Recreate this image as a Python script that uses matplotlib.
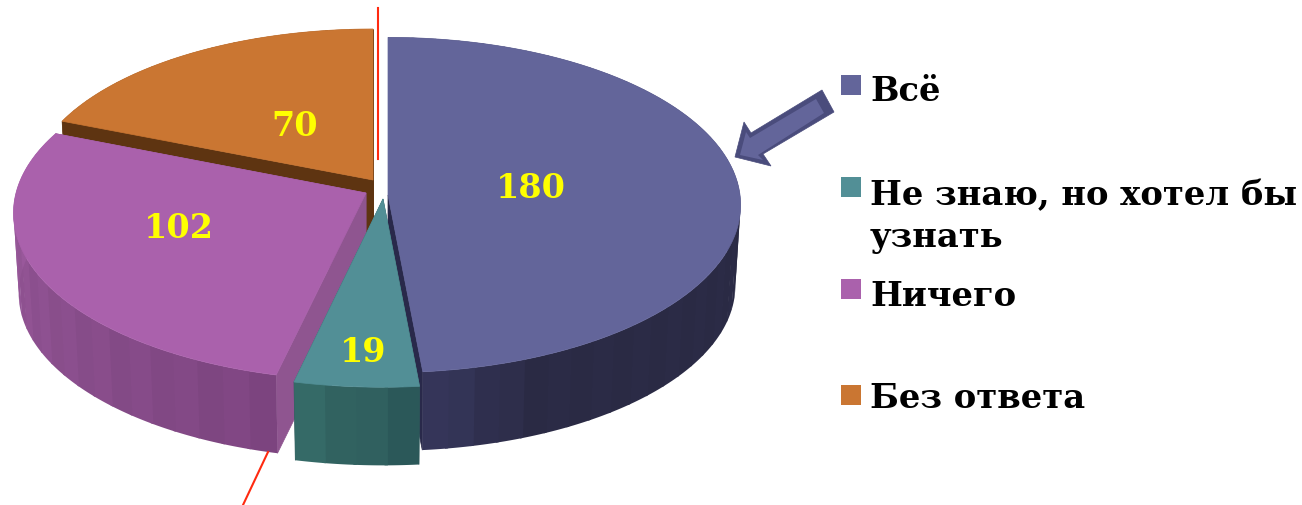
import matplotlib
matplotlib.use('Agg')
import matplotlib.pyplot as plt
from matplotlib.colors import to_rgb
from matplotlib.patches import Polygon, Rectangle
import numpy as np

categories = ['Всё', 'Не знаю, но хотел бы\nузнать', 'Ничего', 'Без ответа']
values = [180, 19, 102, 70]

top_colors = ['#63659a', '#528f96', '#aa61ac', '#ca7632']
inner_colors = ['#29294a', '#2f5a5c', '#8f5590', '#5e3411']
wall_start = ['#2a2a44', '#2a5557', '#7b447e', '#5e3411']
wall_end = ['#36375c', '#356a66', '#9a5a9c', '#5e3411']

# each slice is pulled out on its own, pixels of the picture
apex_x = [388, 383, 366, 373]
apex_y = [195, 199, 193, 180]
rad_x = [352, 370, 350, 343]
rad_y = [167, 177, 165, 160]
persp = [0.0595, 0.0595, 0.12, 0.0595]
label_x = [531, 363, 179, 295]
label_y = [188, 352, 229, 126]
legend_y = [85, 187, 289, 395]
text_y = [101, 205, 306, 408]

bottom_scale = 0.985
bottom_drop = 81


def rim(i, t, bottom=False):
    u = np.sin(t)
    v = np.cos(t)
    w = 1 + persp[i] * v
    s = bottom_scale if bottom else 1
    d = bottom_drop if bottom else 0
    return np.column_stack([apex_x[i] + s * rad_x[i] * u / w,
                            apex_y[i] + d - s * rad_y[i] * v / w])


def mix(c1, c2, f):
    a = np.array(to_rgb(c1))
    b = np.array(to_rgb(c2))
    return tuple(a + (b - a) * f)


def draw_slice(ax, i, t0, t1):
    # inner cut walls
    apex = np.array([[apex_x[i], apex_y[i]]])
    apex_low = np.array([[apex_x[i], apex_y[i] + bottom_drop]])
    for t in [t0, t1]:
        a = rim(i, np.array([t]))
        b = rim(i, np.array([t]), bottom=True)
        pts = np.vstack([apex, a, b, apex_low])
        ax.add_patch(Polygon(pts, closed=True, fc=inner_colors[i], ec=inner_colors[i], lw=0.5))

    # outer wall in bands, each one runs a little under the next
    n = max(4, int(np.degrees(t1 - t0) / 4))
    edges = np.linspace(t0, t1, n + 1)
    for k in range(n):
        stop = edges[k + 1] if k == n - 1 else edges[k + 1] + np.radians(0.5)
        tt = np.linspace(edges[k], stop, 8)
        pts = np.vstack([rim(i, tt), rim(i, tt[::-1], bottom=True)])
        f = (k + 0.5) / n
        if i == 0:
            f = max(0, (f - 0.9) / 0.1)
        c = mix(wall_start[i], wall_end[i], f)
        if k % 2 and i != 3:
            c = tuple(min(1, x * 1.03) for x in c)
        ax.add_patch(Polygon(pts, closed=True, fc=c, ec='none', lw=0))

    # top face
    tt = np.linspace(t0, t1, 200)
    pts = np.vstack([apex, rim(i, tt)])
    ax.add_patch(Polygon(pts, closed=True, fc=top_colors[i], ec=top_colors[i], lw=0.5))


fig = plt.figure(figsize=(13.02, 5.05), dpi=100)
ax = fig.add_axes([0, 0, 1, 1])
ax.set_xlim(0, 1302)
ax.set_ylim(505, 0)
ax.axis('off')

ends = np.cumsum(values) / np.sum(values) * 2 * np.pi
starts = np.concatenate([[0], ends[:-1]])

for i in [3, 2, 0, 1]:
    draw_slice(ax, i, starts[i], ends[i])

# red guide lines
ax.plot([378, 378], [8, 159], color='#ff2a10', lw=1.5, zorder=1)
ax.plot([268, 243], [452, 505], color='#ff2a10', lw=1.5, zorder=1)

for i in range(4):
    ax.text(label_x[i], label_y[i], str(values[i]), color='#ffff00', fontsize=24,
            family='DejaVu Serif', fontweight='bold', ha='center', va='center')

# legend
for i in range(4):
    ax.add_patch(Rectangle((841, legend_y[i] - 10), 20, 20, fc=top_colors[i], ec='none'))
    lines = categories[i].split('\n')
    for j, line in enumerate(lines):
        ax.text(870, text_y[i] + j * 42, line, color='black', fontsize=24.3,
                family='DejaVu Serif', fontweight='bold', ha='left', va='baseline')

# arrow to the big slice
arrow_out = [[735, 157], [744, 122], [751, 133], [822, 90], [834, 112], [763, 154], [771, 166]]
arrow_in = [[740, 155], [746, 132], [750, 138], [816, 99], [824, 113], [758, 155], [763, 160]]
ax.add_patch(Polygon(arrow_out, closed=True, fc='#4a4c7c', ec='#4a4c7c', lw=0.5))
ax.add_patch(Polygon(arrow_in, closed=True, fc='#63659a', ec='none'))

fig.savefig('out.png', dpi=100)
